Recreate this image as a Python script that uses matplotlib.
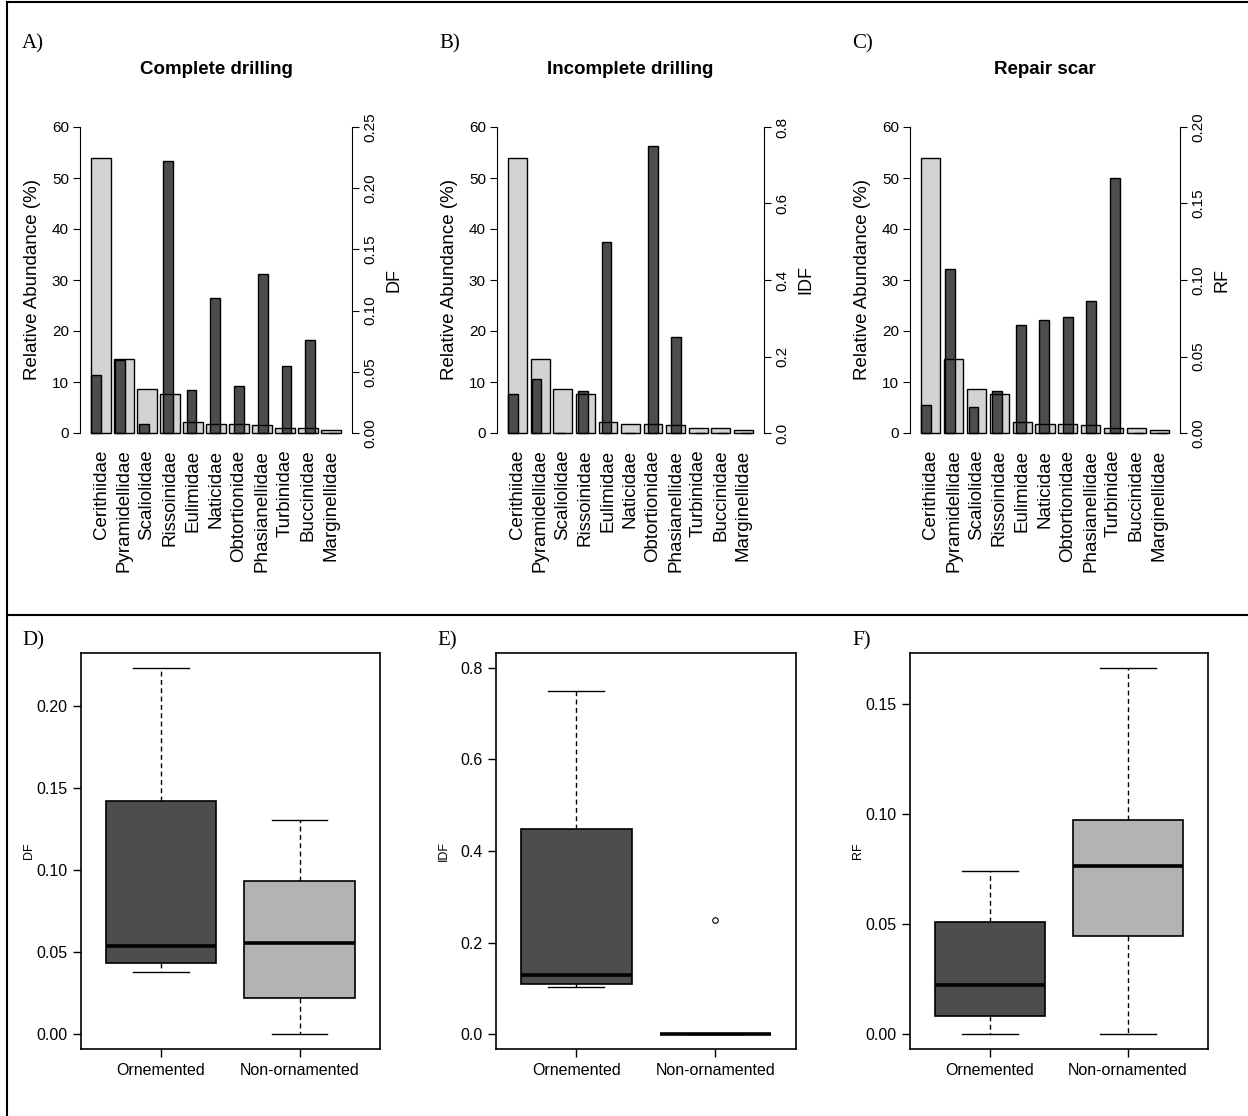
import numpy as np
import matplotlib.pyplot as plt
from matplotlib.lines import Line2D

plt.rcParams['font.family'] = ['Liberation Sans', 'DejaVu Sans']

# data
families = ['Cerithiidae', 'Pyramidellidae', 'Scaliolidae', 'Rissoinidae', 'Eulimidae',
            'Naticidae', 'Obtortionidae', 'Phasianellidae', 'Turbinidae', 'Buccinidae',
            'Marginellidae']
abundance = [54.0, 14.6, 8.7, 7.6, 2.1, 1.8, 1.8, 1.5, 1.0, 0.9, 0.5]
df_vals = [0.047, 0.060, 0.0075, 0.2225, 0.035, 0.110, 0.038, 0.130, 0.0545, 0.076, 0.0]
idf_vals = [0.103, 0.141, 0.0, 0.111, 0.50, 0.0, 0.75, 0.25, 0.0, 0.0, 0.0]
rf_vals = [0.0185, 0.107, 0.0168, 0.0277, 0.0705, 0.0737, 0.0758, 0.086, 0.1665, 0.0, 0.0]

groups = ['Ornemented', 'Non-ornamented']
# box stats: whislo, q1, med, q3, whishi
df_orn = [0.038, 0.0433, 0.0541, 0.1422, 0.2235]
df_non = [0.0, 0.0222, 0.0555, 0.0933, 0.1304]
idf_orn = [0.104, 0.110, 0.129, 0.447, 0.750]
idf_non = [0.0, 0.0, 0.0, 0.0, 0.0]
idf_non_out = [0.25]
rf_orn = [0.0, 0.0084, 0.0226, 0.0509, 0.074]
rf_non = [0.0, 0.0447, 0.0763, 0.0971, 0.1664]

W, H = 1248, 1116
fig = plt.figure(figsize=(W / 100, H / 100), dpi=100)


def rect(l, t, r, b):
    return [l / W, 1 - b / H, (r - l) / W, (b - t) / H]


LIGHT = '#d3d3d3'
DARK = '#4d4d4d'

xl = 0.2 + np.arange(len(families)) * 1.2
xd = 0.2 + np.arange(len(families)) * 1.24

top_panels = [
    ('A)', 'Complete drilling', df_vals, 'DF', 0.25, np.arange(0, 0.26, 0.05), '%.2f', 80, 352),
    ('B)', 'Incomplete drilling', idf_vals, 'IDF', 0.8, np.arange(0, 0.81, 0.2), '%.1f', 497, 764),
    ('C)', 'Repair scar', rf_vals, 'RF', 0.20, np.arange(0, 0.21, 0.05), '%.2f', 910, 1180),
]

for letter, title, vals, rlab, rmax, rticks, fmt, l, r in top_panels:
    ax = fig.add_axes(rect(l, 127, r, 433))
    ax.bar(xl, abundance, width=1.0, align='edge', color=LIGHT, edgecolor='none', clip_on=False)
    ax2 = ax.twinx()
    ax2.bar(xd, vals, width=0.52, align='edge', color=DARK, edgecolor='black', linewidth=1.0, clip_on=False)
    # outlines of the abundance bars sit on top of the frequency bars
    ax2.bar(xl, abundance, width=1.0, align='edge', fill=False, edgecolor='black', linewidth=1.0,
            transform=ax.transData, clip_on=False)
    ax.set_xlim(-0.4, 13.8)
    ax.set_ylim(0, 60)
    ax2.set_ylim(0, rmax)
    for s in ['top', 'bottom', 'right']:
        ax.spines[s].set_visible(False)
    for s in ['top', 'bottom', 'left']:
        ax2.spines[s].set_visible(False)
    ax.spines['left'].set_bounds(0, 60)
    ax2.spines['right'].set_bounds(0, rmax)
    ax.set_yticks(np.arange(0, 61, 10))
    ax.tick_params(axis='y', labelsize=11, length=5, pad=3)
    ax2.set_yticks(rticks)
    ax2.set_yticklabels([fmt % t for t in rticks], rotation=90, va='center')
    ax2.tick_params(axis='y', labelsize=11, length=5, pad=3)
    ax.set_xticks(xl + 0.5)
    ax.set_xticklabels(families, rotation=90, fontsize=13.5)
    ax.tick_params(axis='x', length=0, pad=12)
    ax.set_ylabel('Relative Abundance (%)', fontsize=13.5, labelpad=8)
    ax2.set_ylabel(rlab, fontsize=13, labelpad=6)
    fig.text(((l + r) / 2) / W, 1 - 70 / H, title, fontsize=13.5, fontweight='bold',
             ha='center', va='center')
    fig.text((l - 58) / W, 1 - 44 / H, letter, fontsize=15, family='Liberation Serif',
             ha='left', va='center')


def stats(v, fl=()):
    return dict(whislo=v[0], q1=v[1], med=v[2], q3=v[3], whishi=v[4], fliers=list(fl))


bottom_panels = [
    ('D)', 'DF', [stats(df_orn), stats(df_non)], 0.2235, np.arange(0, 0.21, 0.05), '%.2f', 80.7, 380),
    ('E)', 'IDF', [stats(idf_orn), stats(idf_non, idf_non_out)], 0.8, np.arange(0, 0.81, 0.2), '%.1f', 495.7, 795.7),
    ('F)', 'RF', [stats(rf_orn), stats(rf_non)], 0.1664, np.arange(0, 0.16, 0.05), '%.2f', 910, 1208),
]

for letter, ylab, st, top, ticks, fmt, l, r in bottom_panels:
    ax = fig.add_axes(rect(l, 653, r, 1049))
    bp = ax.bxp(st, positions=[1, 2], widths=0.8, patch_artist=True, capwidths=0.4,
                boxprops=dict(edgecolor='black', linewidth=1.2),
                whiskerprops=dict(linestyle=(0, (3.5, 2.5)), linewidth=1.0, color='black'),
                capprops=dict(linewidth=1.0, color='black'),
                medianprops=dict(linewidth=2.6, color='black', solid_capstyle='butt'),
                flierprops=dict(marker='o', markerfacecolor='none', markeredgecolor='black',
                                markersize=4, markeredgewidth=0.8))
    for patch, c in zip(bp['boxes'], ['#4d4d4d', '#b3b3b3']):
        patch.set_facecolor(c)
    pad = top * 0.04
    ax.set_ylim(-pad, top + pad)
    ax.set_xlim(0.42, 2.58)
    ax.set_yticks(ticks)
    ax.set_yticklabels([fmt % t for t in ticks])
    ax.set_xticks([1, 2])
    ax.set_xticklabels(groups)
    ax.tick_params(axis='both', labelsize=11.5, length=6, width=1.0)
    ax.tick_params(axis='x', pad=4)
    for s in ax.spines.values():
        s.set_linewidth(1.2)
    ax.set_ylabel(ylab, fontsize=9)
    ax.yaxis.set_label_coords(-46 / (r - l), 0.5)
    fig.text((l - 58) / W, 1 - 641 / H, letter, fontsize=15, family='Liberation Serif',
             ha='left', va='center')

# frame lines
fig.add_artist(Line2D([7 / W, 7 / W], [0, 1 - 2 / H], color='black', linewidth=1.5))
fig.add_artist(Line2D([7 / W, 1], [1 - 2 / H, 1 - 2 / H], color='black', linewidth=1.5))
fig.add_artist(Line2D([7 / W, 1], [1 - 615 / H, 1 - 615 / H], color='black', linewidth=1.5))

fig.savefig('out.png', dpi=100)
